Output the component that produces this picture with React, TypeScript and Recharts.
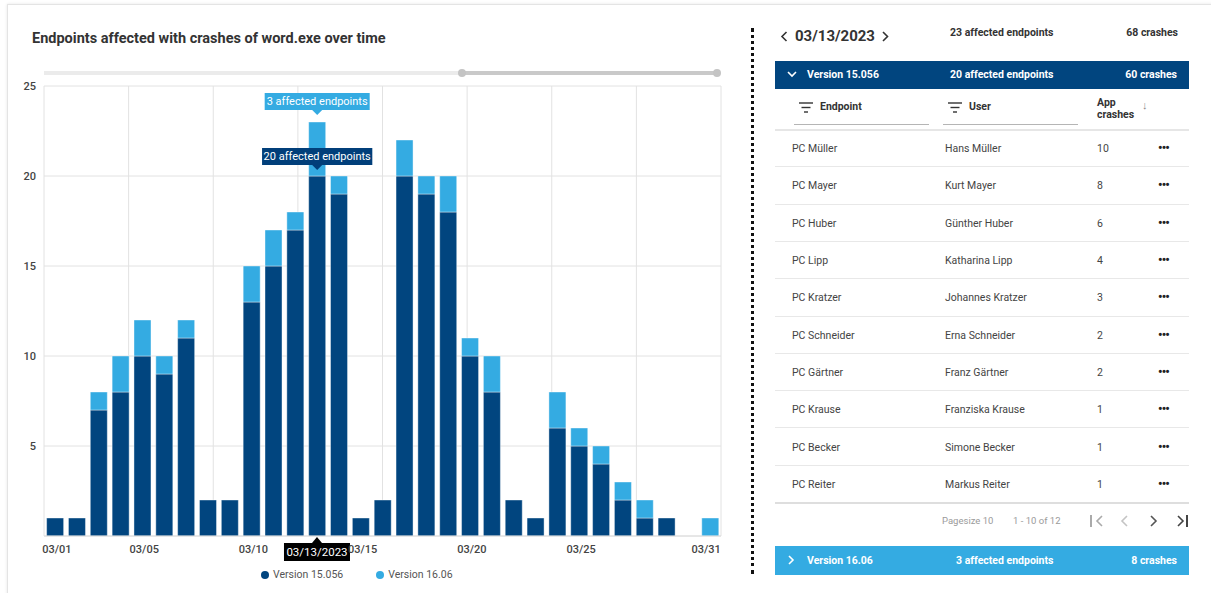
import React from 'react'
import { BarChart, Bar, XAxis, YAxis, CartesianGrid, Legend, LabelList } from 'recharts'

const days = [
  '03/01', '03/02', '03/03', '03/04', '03/05', '03/06', '03/07', '03/08', '03/09', '03/10',
  '03/11', '03/12', '03/13', '03/14', '03/15', '03/16', '03/17', '03/18', '03/19', '03/20',
  '03/21', '03/22', '03/23', '03/24', '03/25', '03/26', '03/27', '03/28', '03/29', '03/30', '03/31'
]
const version15 = [1, 1, 7, 8, 10, 9, 11, 2, 2, 13, 15, 17, 20, 19, 1, 2, 20, 19, 18, 10, 8, 2, 1, 6, 5, 4, 2, 1, 1, 0, 0]
const version16 = [0, 0, 1, 2, 2, 1, 1, 0, 0, 2, 2, 1, 3, 1, 0, 0, 2, 1, 2, 1, 2, 0, 0, 2, 1, 1, 1, 1, 0, 0, 1]
const yTicks = [5, 10, 15, 20, 25]
const shownTicks = ['03/01', '03/05', '03/10', '03/15', '03/20', '03/25', '03/31']
const selectedDay = '03/13'
const selectedDate = '03/13/2023'

const endpoints = ['PC Müller', 'PC Mayer', 'PC Huber', 'PC Lipp', 'PC Kratzer', 'PC Schneider', 'PC Gärtner', 'PC Krause', 'PC Becker', 'PC Reiter']
const users = ['Hans Müller', 'Kurt Mayer', 'Günther Huber', 'Katharina Lipp', 'Johannes Kratzer', 'Erna Schneider', 'Franz Gärtner', 'Franziska Krause', 'Simone Becker', 'Markus Reiter']
const appCrashes = [10, 8, 6, 4, 3, 2, 2, 1, 1, 1]

const DARK = '#01457f'
const LIGHT = '#34abe2'
const FONT = 'Roboto, "Noto Sans", sans-serif'

const data = days.map((d, i) => ({ day: d, v15: version15[i], v16: version16[i] }))

const DayTick = (props: any) => {
  const { x, y, payload, index } = props
  const v = payload.value
  if (v === selectedDay) {
    return (
      <g>
        <path d={`M${x - 5},${y - 1} L${x},${y - 7} L${x + 5},${y - 1} Z`} fill="#000" />
        <rect x={x - 33} y={y - 1} width={66} height={18} fill="#000" />
        <text x={x} y={y + 12} textAnchor="middle" fill="#fff" fontSize={11.5} fontFamily={FONT}>{selectedDate}</text>
      </g>
    )
  }
  if (!shownTicks.includes(v)) return <g />
  const last = index === days.length - 1
  return (
    <text x={last ? x - 4 : x + 2} y={y + 9} textAnchor="middle" fill="#444" fontSize={11} fontWeight={500} fontFamily={FONT}>{v}</text>
  )
}

// value accessor marks only the selected day, so the label follows the data, not the rendered index
const selectedValue = (key: 'v15' | 'v16') => (entry: any) =>
  entry && entry.payload && entry.payload.day === selectedDay ? entry.payload[key] : ''

const makeLabel = (color: string, gap: number) => (props: any) => {
  const { x, y, width, value } = props
  if (value === '' || value === undefined || value === null) return null
  const text = `${value} affected endpoints`
  const w = text.length * 5.25
  const cx = x + width / 2
  const bottom = y - gap
  return (
    <g>
      <rect x={cx - w / 2} y={bottom - 17} width={w} height={17} fill={color} />
      <path d={`M${cx - 5},${bottom} L${cx},${bottom + 5} L${cx + 5},${bottom} Z`} fill={color} />
      <text x={cx} y={bottom - 5} textAnchor="middle" fill="#fff" fontSize={11} fontFamily={FONT}>{text}</text>
    </g>
  )
}

const LegendContent = (props: any) => (
  <div style={{ display: 'flex', gap: 33, fontFamily: FONT, fontSize: 10.5, color: '#555' }}>
    {(props.payload || []).map((p: any) => (
      <div key={p.value} style={{ display: 'flex', alignItems: 'center', gap: 4 }}>
        <span style={{ width: 8, height: 8, borderRadius: 4, background: p.color, display: 'inline-block' }} />
        <span>{p.value}</span>
      </div>
    ))}
  </div>
)

const FilterIcon = ({ x, y }: { x: number; y: number }) => (
  <svg style={{ position: 'absolute', left: x, top: y }} width={14} height={11}>
    <line x1={0} y1={1} x2={14} y2={1} stroke="#333" strokeWidth={1.4} />
    <line x1={2.5} y1={5.5} x2={11.5} y2={5.5} stroke="#333" strokeWidth={1.4} />
    <line x1={5} y1={10} x2={9} y2={10} stroke="#333" strokeWidth={1.4} />
  </svg>
)

const Chevron = ({ x, y, dir, color, size = 5 }: { x: number; y: number; dir: 'l' | 'r' | 'd'; color: string; size?: number }) => {
  const s = size
  const pts = dir === 'l' ? `${s},0 0,${s} ${s},${2 * s}` : dir === 'r' ? `0,0 ${s},${s} 0,${2 * s}` : `0,0 ${s},${s} ${2 * s},0`
  const w = dir === 'd' ? 2 * s : s
  const h = dir === 'd' ? s : 2 * s
  return (
    <svg style={{ position: 'absolute', left: x - w / 2 - 1, top: y - h / 2 - 1, overflow: 'visible' }} width={w + 2} height={h + 2}>
      <polyline points={pts} transform="translate(1,1)" fill="none" stroke={color} strokeWidth={1.6} />
    </svg>
  )
}

const T = ({ x, y, children, style }: { x: number; y: number; children: React.ReactNode; style?: React.CSSProperties }) => (
  <div style={{ position: 'absolute', left: x, top: y - 8, height: 16, lineHeight: '16px', whiteSpace: 'nowrap', ...style }}>{children}</div>
)
const TR = ({ right, y, children, style }: { right: number; y: number; children: React.ReactNode; style?: React.CSSProperties }) => (
  <div style={{ position: 'absolute', right: 1211 - right, top: y - 8, height: 16, lineHeight: '16px', whiteSpace: 'nowrap', ...style }}>{children}</div>
)

const bold: React.CSSProperties = { fontWeight: 700, fontSize: 10.5, color: '#333' }
const white: React.CSSProperties = { fontWeight: 700, fontSize: 10.5, color: '#fff' }
const cell: React.CSSProperties = { fontSize: 10.5, color: '#444' }

const ROW_TOP = 130
const ROW_H = 37.3

export default function App() {
  return (
    <div style={{ position: 'absolute', left: 0, top: 0, width: 1211, height: 593, overflow: 'hidden', background: '#fff', fontFamily: FONT }}>
      <div style={{ position: 'absolute', left: 7, top: 4, width: 1240, height: 640, border: '1px solid #e4e4e4', boxShadow: '0 0 3px rgba(0,0,0,0.10)', background: '#fff' }} />

      <T x={32} y={38} style={{ fontSize: 14.5, fontWeight: 700, color: '#333', height: 20, lineHeight: '20px', top: 29 }}>
        Endpoints affected with crashes of word.exe over time
      </T>

      {/* range slider */}
      <div style={{ position: 'absolute', left: 44, top: 71, width: 418, height: 4, background: '#ebebeb' }} />
      <div style={{ position: 'absolute', left: 462, top: 71, width: 255, height: 4, background: '#c9c9c9' }} />
      <div style={{ position: 'absolute', left: 458, top: 69, width: 8, height: 8, borderRadius: 4, background: '#c4c4c4' }} />
      <div style={{ position: 'absolute', left: 713, top: 69, width: 8, height: 8, borderRadius: 4, background: '#c4c4c4' }} />

      <div style={{ position: 'absolute', left: 0, top: 0 }}>
        <BarChart width={760} height={593} data={data} margin={{ top: 86, right: 39, bottom: 27, left: 14 }} barCategoryGap="12%">
          <CartesianGrid
            stroke="#e2e2e2"
            verticalCoordinatesGenerator={({ offset }: any) => Array.from({ length: 9 }, (_, i) => offset.left + (i * offset.width) / 8)}
          />
          <XAxis dataKey="day" interval={0} height={30} tick={<DayTick />} tickLine={false} axisLine={{ stroke: '#dcdcdc' }} />
          <YAxis width={30} domain={[0, 25]} ticks={yTicks} tickLine={false} axisLine={false}
            tick={{ fill: '#444', fontSize: 11, fontWeight: 500, fontFamily: FONT }} />
          <Legend layout="horizontal" verticalAlign="middle" align="center"
            wrapperStyle={{ position: 'absolute', left: 261, top: 568, width: 260, height: 16 }}
            content={<LegendContent />} />
          <Bar dataKey="v15" name="Version 15.056" stackId="a" fill={DARK} stroke="#ffffff" strokeOpacity={0.4} strokeWidth={1} isAnimationActive={false}>
            <LabelList valueAccessor={selectedValue('v15')} content={makeLabel('#013f7a', 11)} />
          </Bar>
          <Bar dataKey="v16" name="Version 16.06" stackId="a" fill={LIGHT} stroke="#ffffff" strokeOpacity={0.4} strokeWidth={1} isAnimationActive={false}>
            <LabelList valueAccessor={selectedValue('v16')} content={makeLabel(LIGHT, 12)} />
          </Bar>
        </BarChart>
      </div>

      {/* dotted separator */}
      <div style={{ position: 'absolute', left: 751, top: 28, height: 546, borderLeft: '3px dotted #111' }} />

      {/* right panel */}
      <Chevron x={784} y={36} dir="l" color="#333" size={4.5} />
      <T x={795} y={36} style={{ fontSize: 15, fontWeight: 700, color: '#333', height: 20, lineHeight: '20px', top: 26 }}>03/13/2023</T>
      <Chevron x={885} y={36} dir="r" color="#333" size={4.5} />
      <T x={950} y={33} style={bold}>23 affected endpoints</T>
      <TR right={1178} y={33} style={bold}>68 crashes</TR>

      <div style={{ position: 'absolute', left: 775, top: 61, width: 414, height: 28, background: DARK }} />
      <Chevron x={792} y={74} dir="d" color="#fff" size={4} />
      <T x={807} y={75} style={white}>Version 15.056</T>
      <T x={950} y={75} style={white}>20 affected endpoints</T>
      <TR right={1177} y={75} style={white}>60 crashes</TR>

      <FilterIcon x={799} y={102} />
      <T x={820} y={107} style={bold}>Endpoint</T>
      <div style={{ position: 'absolute', left: 794, top: 124, width: 135, height: 1, background: '#b5b5b5' }} />
      <FilterIcon x={948} y={102} />
      <T x={969} y={107} style={bold}>User</T>
      <div style={{ position: 'absolute', left: 943, top: 124, width: 135, height: 1, background: '#b5b5b5' }} />
      <T x={1097} y={103} style={bold}>App</T>
      <T x={1097} y={115} style={bold}>crashes</T>
      <T x={1142} y={106} style={{ fontSize: 11, color: '#888' }}>↓</T>

      <div style={{ position: 'absolute', left: 775, top: ROW_TOP - 1, width: 414, height: 2, background: '#e6e6e6' }} />
      {endpoints.map((ep, i) => {
        const cy = ROW_TOP + ROW_H * i + ROW_H / 2 + 0.5
        return (
          <React.Fragment key={ep}>
            <T x={792} y={cy} style={cell}>{ep}</T>
            <T x={945} y={cy} style={cell}>{users[i]}</T>
            <T x={1097} y={cy} style={cell}>{appCrashes[i]}</T>
            <T x={1158} y={cy - 1} style={{ fontSize: 12, fontWeight: 900, color: '#222', letterSpacing: -0.8 }}>•••</T>
            <div style={{
              position: 'absolute', left: 775, top: ROW_TOP + ROW_H * (i + 1) - 1, width: 414,
              height: i === endpoints.length - 1 ? 2 : 1, background: i === endpoints.length - 1 ? '#dedede' : '#e8e8e8'
            }} />
          </React.Fragment>
        )
      })}

      <T x={942} y={521} style={{ fontSize: 9.5, color: '#9a9a9a' }}>Pagesize 10</T>
      <T x={1013} y={521} style={{ fontSize: 9.5, color: '#9a9a9a' }}>1 - 10 of 12</T>
      <div style={{ position: 'absolute', left: 1090, top: 515, width: 1.5, height: 12, background: '#aaa' }} />
      <Chevron x={1099} y={521} dir="l" color="#aaa" size={5} />
      <Chevron x={1124} y={521} dir="l" color="#c4c4c4" size={5} />
      <Chevron x={1153} y={521} dir="r" color="#555" size={5} />
      <Chevron x={1180} y={521} dir="r" color="#444" size={5} />
      <div style={{ position: 'absolute', left: 1186, top: 515, width: 1.5, height: 12, background: '#444' }} />

      <div style={{ position: 'absolute', left: 775, top: 546, width: 414, height: 29, background: LIGHT }} />
      <Chevron x={791} y={560} dir="r" color="#fff" size={4} />
      <T x={807} y={561} style={white}>Version 16.06</T>
      <T x={956} y={561} style={white}>3 affected endpoints</T>
      <TR right={1177} y={561} style={white}>8 crashes</TR>
    </div>
  )
}
